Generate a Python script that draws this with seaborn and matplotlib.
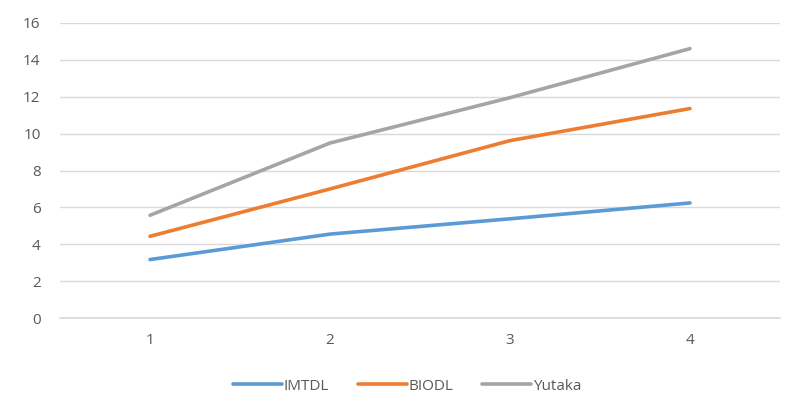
import matplotlib
matplotlib.use("Agg")
import matplotlib.pyplot as plt
import seaborn as sns
import pandas as pd

categories = [1, 2, 3, 4]
imtdl = [3.17, 4.55, 5.38, 6.24]
biodl = [4.43, 7.0, 9.62, 11.36]
yutaka = [5.57, 9.49, 11.95, 14.61]
series_names = ["IMTDL", "BIODL", "Yutaka"]
y_ticks = [0, 2, 4, 6, 8, 10, 12, 14, 16]

df = pd.DataFrame({
    "x": categories * 3,
    "value": imtdl + biodl + yutaka,
    "series": [n for n in series_names for _ in categories],
})

sns.set_theme(style="white")
plt.rcParams["font.family"] = ["Open Sans", "DejaVu Sans"]

fig = plt.figure(figsize=(7.85, 4.0), dpi=100)
ax = fig.add_axes([60 / 785, 1 - 318 / 400, 720 / 785, 295 / 400])

palette = {"IMTDL": "#5B9BD5", "BIODL": "#ED7D31", "Yutaka": "#A5A5A5"}
sns.lineplot(data=df, x="x", y="value", hue="series", palette=palette,
             linewidth=2.6, ax=ax, legend=False, solid_capstyle="round")

ax.set_xlim(0.5, 4.5)
ax.set_ylim(0, 16)
ax.set_yticks(y_ticks)
ax.set_xticks(categories)
ax.set_xticklabels([str(c) for c in categories])
ax.grid(axis="y", color="#D9D9D9", linewidth=1)
ax.set_axisbelow(True)
for s in ax.spines.values():
    s.set_visible(False)
ax.spines["bottom"].set_visible(True)
ax.spines["bottom"].set_color("#D9D9D9")
ax.tick_params(axis="both", length=0, labelsize=11, colors="#595959")
ax.tick_params(axis="y", pad=14)
ax.tick_params(axis="x", pad=11)
ax.set_xlabel("")
ax.set_ylabel("")

handles = [plt.Line2D([0], [0], color=palette[n], linewidth=2.6) for n in series_names]
fig.legend(handles, series_names, loc="center", bbox_to_anchor=(407 / 785, 1 - 386 / 400),
           ncol=3, frameon=False, fontsize=11, labelcolor="#595959",
           handlelength=3.2, handletextpad=0.1, columnspacing=1.9)

fig.savefig("out.png", dpi=100)
